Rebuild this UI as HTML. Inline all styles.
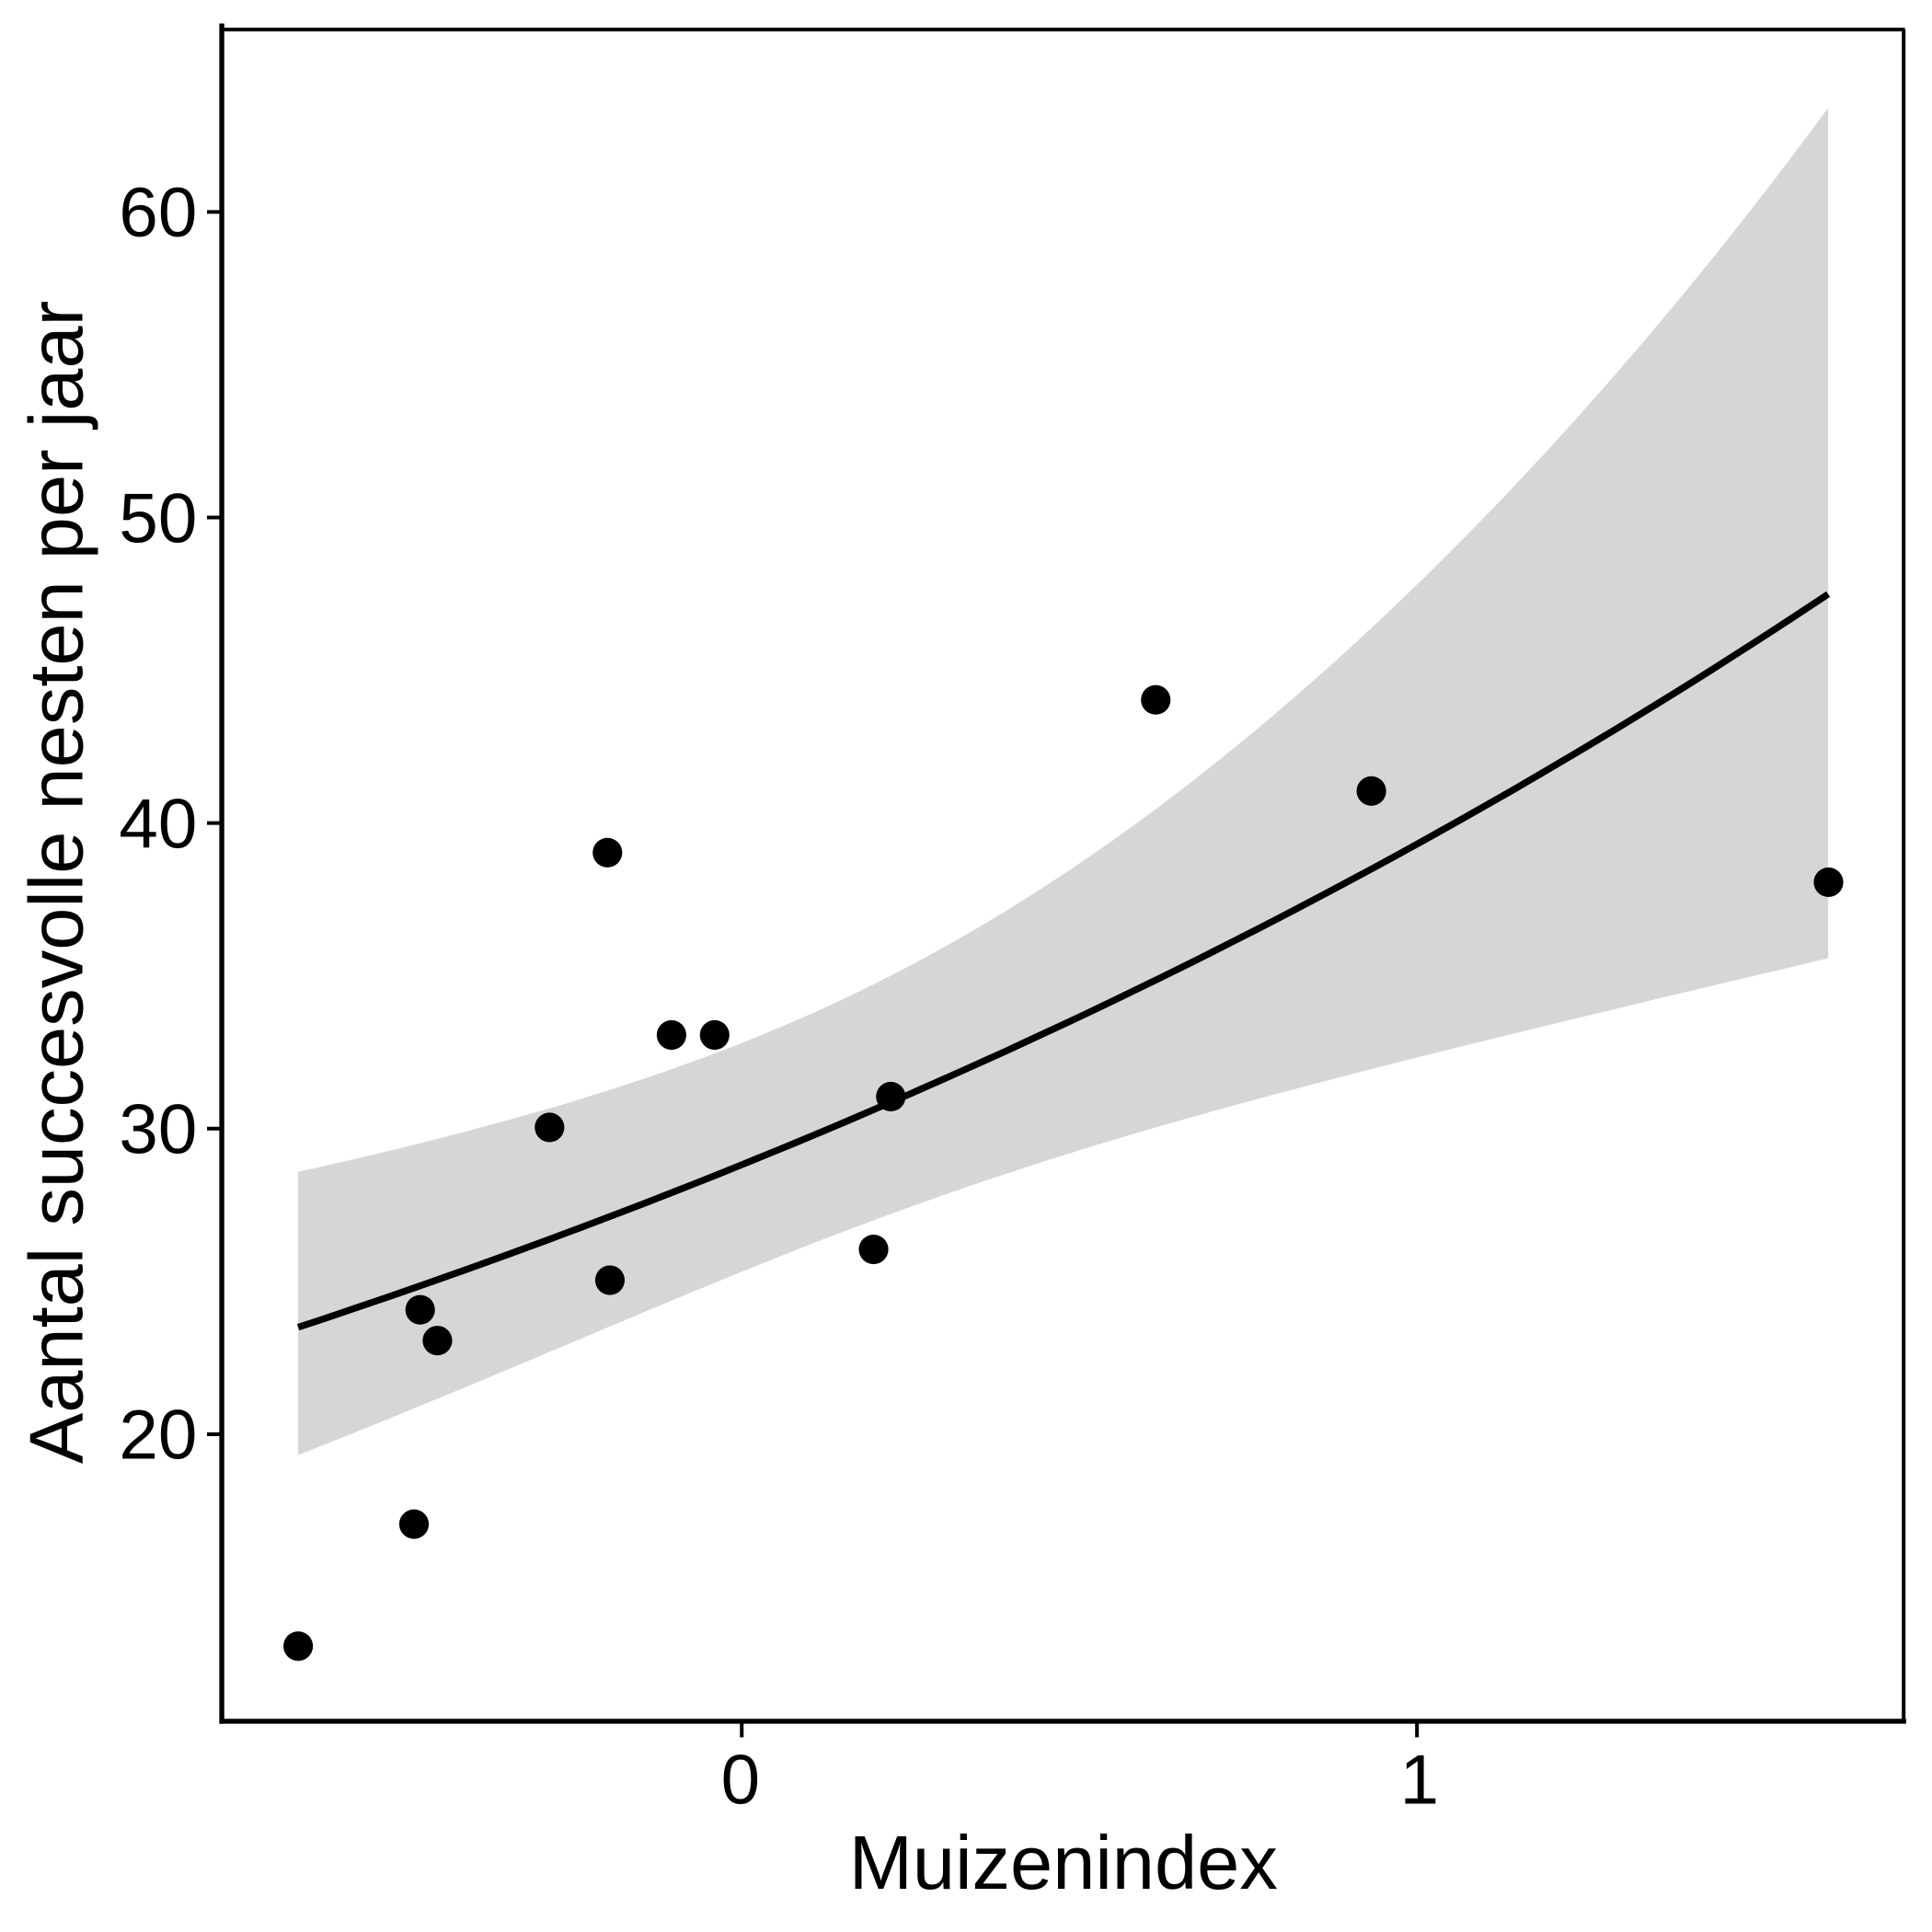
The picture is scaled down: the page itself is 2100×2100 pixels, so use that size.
<!DOCTYPE html>
<html><head><meta charset="utf-8"><style>
html,body{margin:0;padding:0;background:#fff;}
svg{display:block;}
text{font-family:"Liberation Sans",Arial,sans-serif;fill:#000;}
</style></head><body>
<svg id="s" width="2100" height="2100" viewBox="0 0 1568 1568" xmlns="http://www.w3.org/2000/svg">
<rect width="1568" height="1568" fill="#fff"/>
<path id="band" fill="#d6d6d6" d=""/>
<path id="fit" fill="none" stroke="#000" stroke-width="5.5" d=""/>
<g fill="#000">
<circle cx="242" cy="1336" r="12"/>
<circle cx="336" cy="1237" r="12"/>
<circle cx="341" cy="1063" r="12"/>
<circle cx="355" cy="1088" r="12"/>
<circle cx="446" cy="915" r="12"/>
<circle cx="493" cy="692" r="12"/>
<circle cx="495" cy="1039" r="12"/>
<circle cx="545" cy="840" r="12"/>
<circle cx="580" cy="840" r="12"/>
<circle cx="709" cy="1014" r="12"/>
<circle cx="723" cy="890" r="12"/>
<circle cx="938" cy="568" r="12"/>
<circle cx="1113" cy="642" r="12"/>
<circle cx="1484" cy="716" r="12"/>
</g>
<g stroke="#000" fill="none">
<line x1="180" y1="24" x2="1546" y2="24" stroke-width="3"/>
<line x1="1545" y1="24" x2="1545" y2="1397" stroke-width="3"/>
<line x1="180" y1="19" x2="180" y2="1399" stroke-width="4"/>
<line x1="178" y1="1397" x2="1547" y2="1397" stroke-width="4"/>
<line x1="168" y1="172" x2="180" y2="172" stroke-width="3"/>
<line x1="168" y1="420" x2="180" y2="420" stroke-width="3"/>
<line x1="168" y1="668" x2="180" y2="668" stroke-width="3"/>
<line x1="168" y1="916" x2="180" y2="916" stroke-width="3"/>
<line x1="168" y1="1164" x2="180" y2="1164" stroke-width="3"/>
<line x1="602" y1="1397" x2="602" y2="1410" stroke-width="3"/>
<line x1="1150" y1="1397" x2="1150" y2="1410" stroke-width="3"/>
</g>
<g font-size="57" text-anchor="end">
<text x="160" y="192">60</text>
<text x="160" y="440">50</text>
<text x="160" y="688">40</text>
<text x="160" y="936">30</text>
<text x="160" y="1184">20</text>
</g>
<g font-size="57" text-anchor="middle">
<text x="601" y="1464">0</text>
<text x="1152" y="1464">1</text>
<text x="863" y="1533" font-size="62">Muizenindex</text>
<text transform="translate(67,716) rotate(-90)" font-size="62">Aantal succesvolle nesten per jaar</text>
</g>
<script>
(function(){
var b=0.3105,a=Math.log(23.5)+0.3105*0.657;
function X(x){return 602+548*x;}function Y(v){return 1164-(v-20)*24.8;}
function h(x){return Math.sqrt(0.0158+0.0328*(x-0.1726)*(x-0.1726));}
var x0=-0.657,x1=1.609,n=80,f="",up=[],lo=[];
for(var i=0;i<=n;i++){var x=x0+(x1-x0)*i/n,m=a+b*x,e=h(x);
f+=(i?"L":"M")+X(x).toFixed(1)+","+Y(Math.exp(m)).toFixed(1);
up.push(X(x).toFixed(1)+","+Y(Math.exp(m+e)).toFixed(1));
lo.push(X(x).toFixed(1)+","+Y(Math.exp(m-e)).toFixed(1));}
document.getElementById("fit").setAttribute("d",f);
document.getElementById("band").setAttribute("d","M"+up.join("L")+"L"+lo.reverse().join("L")+"Z");
})();
</script>
</svg>
</body></html>
